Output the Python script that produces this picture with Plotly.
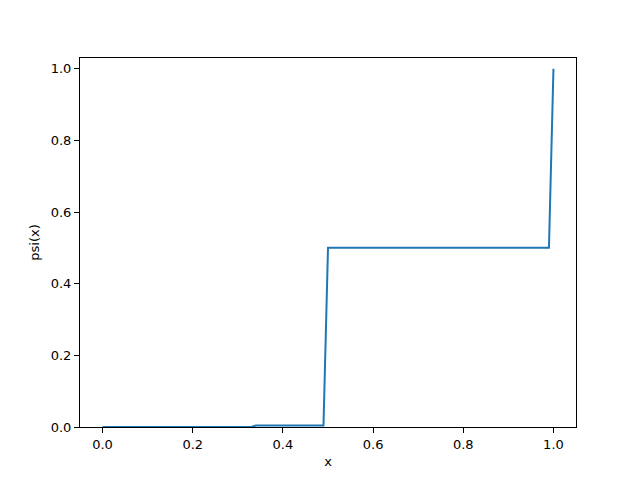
import plotly.graph_objects as go

# breakpoints of the sampled step function psi(x)
x_vals = [0.0, 0.33, 0.34, 0.49, 0.50, 0.99, 1.00]
y_vals = [0.0, 0.0, 0.004, 0.004, 0.5, 0.5, 1.0]
tick_vals = [0.0, 0.2, 0.4, 0.6, 0.8, 1.0]
tick_text = ["0.0", "0.2", "0.4", "0.6", "0.8", "1.0"]

fig = go.Figure()
fig.add_trace(go.Scatter(x=x_vals, y=y_vals, mode="lines",
                         line=dict(color="#1f77b4", width=2), showlegend=False))

axis_common = dict(showgrid=False, zeroline=False, showline=True, linecolor="black",
                   linewidth=1, mirror=True, ticks="outside", ticklen=5, tickwidth=1,
                   tickcolor="black", tickfont=dict(family="DejaVu Sans", size=13, color="black"))

# page body has an 8px margin, so the figure is shrunk and margins shifted accordingly
fig.update_layout(
    width=632, height=472,
    margin=dict(l=72, r=64, t=50, b=53),
    paper_bgcolor="white", plot_bgcolor="white",
    font=dict(family="DejaVu Sans", size=13, color="black"),
    xaxis=dict(range=[-0.05, 1.05], tickvals=tick_vals, ticktext=tick_text,
               title=dict(text="x", standoff=6, font=dict(size=13)), **axis_common),
    yaxis=dict(range=[0, 1.03], tickvals=tick_vals, ticktext=tick_text,
               title=dict(text="psi(x)", standoff=8, font=dict(size=13)), **axis_common),
)

fig.write_html("out.html")
